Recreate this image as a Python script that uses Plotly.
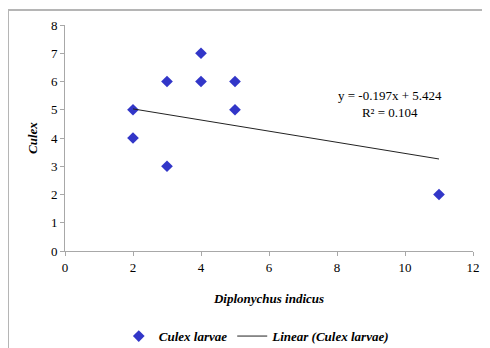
import plotly.graph_objects as go

diplonychus = [2, 2, 3, 3, 4, 4, 5, 5, 11]
culex = [5, 4, 6, 3, 7, 6, 6, 5, 2]
slope = -0.197
intercept = 5.424
r2 = 0.104
trend_x = [min(diplonychus), max(diplonychus)]
trend_y = [slope * v + intercept for v in trend_x]

font = "serif"

fig = go.Figure()
fig.add_trace(go.Scatter(
    x=diplonychus, y=culex, mode="markers", name="<b><i>Culex larvae</i></b>",
    marker=dict(symbol="diamond", size=9, color="#3236c8"),
))
fig.add_trace(go.Scatter(
    x=trend_x, y=trend_y, mode="lines", name="<b><i>Linear (Culex larvae)</i></b>",
    line=dict(color="#222222", width=1),
))

fig.add_annotation(
    x=9.55, y=5.2, xref="x", yref="y", showarrow=False,
    text=f"y = {slope}x + {intercept}<br>R² = {r2}",
    font=dict(family=font, size=13, color="black"), align="center",
)

fig.add_shape(type="rect", xref="paper", yref="paper",
              x0=-0.1397, x1=1.2, y0=-0.6, y1=1.066,
              line=dict(color="#b5b5b5", width=2), fillcolor="rgba(0,0,0,0)", layer="below")

fig.update_layout(
    width=482, height=340,
    margin=dict(l=57, r=17, t=17, b=97, autoexpand=False),
    paper_bgcolor="white", plot_bgcolor="white",
    font=dict(family=font, size=13, color="black"),
    showlegend=True,
    legend=dict(orientation="h", x=0.47, xanchor="center", yref="container", y=0.035, yanchor="middle",
                font=dict(family=font, size=13, color="black"),
                itemwidth=30, bgcolor="rgba(0,0,0,0)"),
    xaxis=dict(
        range=[0, 12], tickmode="linear", dtick=2, showgrid=False, zeroline=False,
        showline=True, linecolor="#a8a8a8", linewidth=1, automargin=False,
        ticks="outside", ticklen=4, tickcolor="#a8a8a8",
        tickfont=dict(family=font, size=13),
        title=dict(text="<b><i>Diplonychus indicus</i></b>", standoff=20,
                   font=dict(family=font, size=13)),
    ),
    yaxis=dict(
        range=[0, 8], tickmode="linear", dtick=1, showgrid=False, zeroline=False,
        showline=True, linecolor="#a8a8a8", linewidth=1, automargin=False,
        ticks="outside", ticklen=4, tickcolor="#a8a8a8",
        tickfont=dict(family=font, size=13),
        title=dict(text="<b><i>Culex</i></b>", standoff=10,
                   font=dict(family=font, size=13)),
    ),
)

fig.write_html("out.html")
